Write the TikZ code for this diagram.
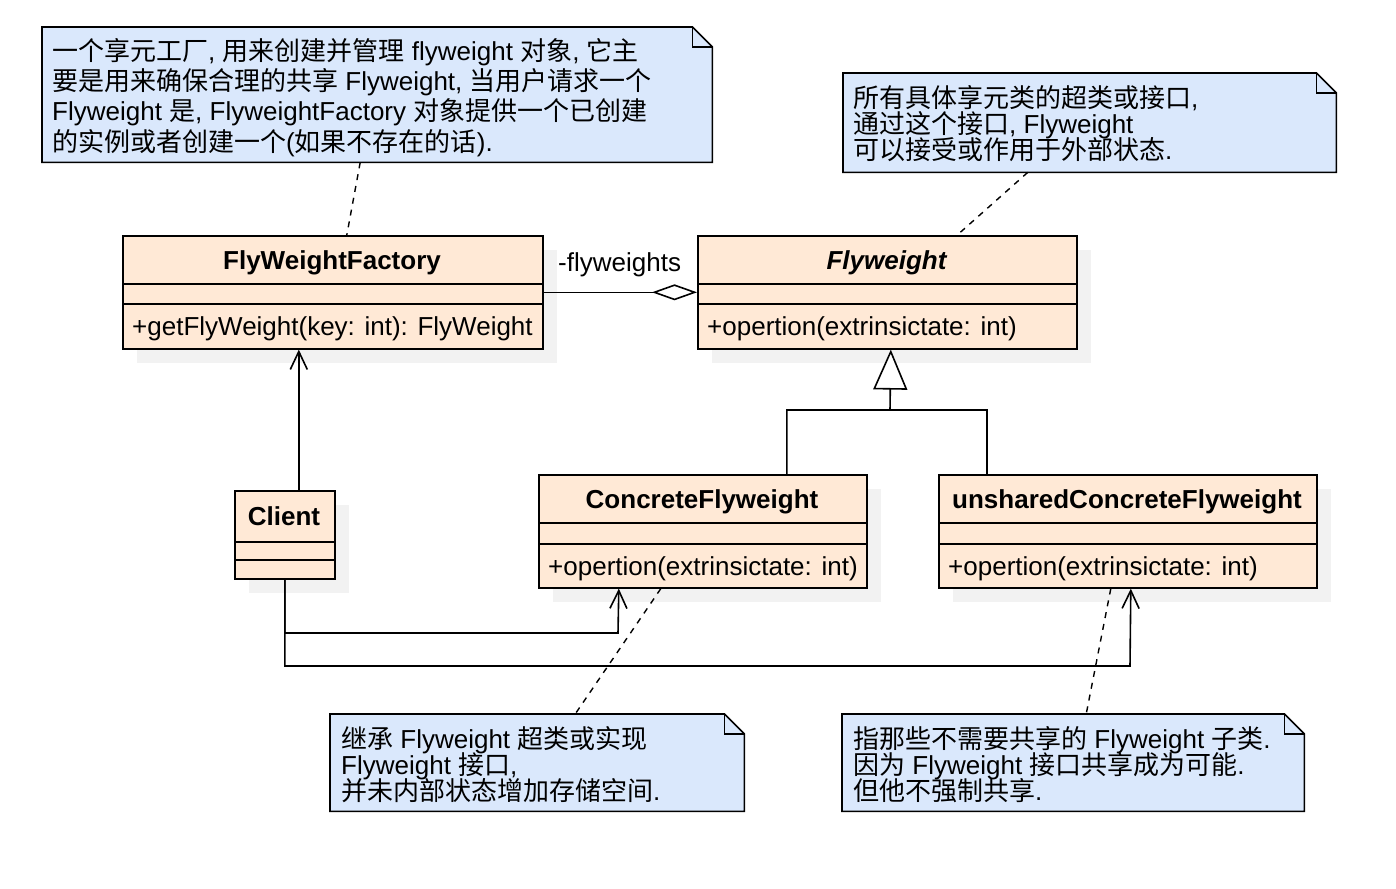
\documentclass[tikz,border=0pt]{standalone}
\usepackage{fontspec}
\setmainfont{Liberation Sans}
\newfontfamily\cjk{Noto Sans CJK SC}
\usetikzlibrary{arrows.meta,shadows}
\definecolor{classfill}{RGB}{255,233,214}
\definecolor{notefill}{RGB}{218,232,252}
\definecolor{shadowgray}{RGB}{242,242,242}
\newcommand\drawnote[1]{%
  \draw[noteline] (#1.north west) -- ([xshift=-20pt]#1.north east) -- ([yshift=-20pt]#1.north east) -- (#1.south east) -- (#1.south west) -- cycle;
  \draw[noteline, fill=none] ([xshift=-20pt]#1.north east) -- ++(0,20) -- ([yshift=-20pt]#1.north east);}
\begin{document}
\begin{tikzpicture}[x=1pt,y=-1pt,
  font=\fontsize{26}{30}\selectfont,
  classbox/.style={draw, line width=1.6pt, fill=classfill, anchor=north west, inner sep=0pt,
    drop shadow={shadow xshift=14pt, shadow yshift=-14pt, fill=shadowgray, opacity=1}},
  sec/.style={line width=1.6pt},
  notebox/.style={anchor=north west, inner sep=0pt, draw=none},
  noteline/.style={draw, line width=1.6pt, fill=notefill},
  txt/.style={anchor=base west, inner sep=0pt},
  ctitle/.style={anchor=base, inner sep=0pt, font=\fontsize{26}{30}\selectfont\bfseries},
  rel/.style={line width=1.6pt},
  assoc/.style={rel, -{Straight Barb[length=18pt,width=17pt]}},
  gen/.style={rel, -{Triangle[length=40pt,width=34pt,fill=white]}},
  agg/.style={rel, -{Diamond[length=45pt,width=16pt,fill=white]}},
  anchorline/.style={line width=1.4pt, dash pattern=on 6pt off 6pt}]
\useasboundingbox (0,0) rectangle (1396,888);

% ---- classes ----
\node[classbox, minimum width=420pt, minimum height=113pt] (fac) at (122,235) {};
\draw[sec] (122,284) -- (542,284);
\draw[sec] (122,304) -- (542,304);
\node[ctitle] (facT) at (332,269) {FlyWeightFactory};
\node[txt] (facM) at (132,335) {+getFlyWeight(key: int): FlyWeight};

\node[classbox, minimum width=379pt, minimum height=113pt] (fw) at (697,235) {};
\draw[sec] (697,284) -- (1076,284);
\draw[sec] (697,304) -- (1076,304);
\node[ctitle, font=\fontsize{26}{30}\selectfont\bfseries\itshape] (fwT) at (886.5,269) {Flyweight};
\node[txt] (fwM) at (707,335) {+opertion(extrinsictate: int)};

\node[classbox, minimum width=328pt, minimum height=113pt] (cf) at (538,474) {};
\draw[sec] (538,523) -- (866,523);
\draw[sec] (538,544) -- (866,544);
\node[ctitle] (cfT) at (702,508) {ConcreteFlyweight};
\node[txt] (cfM) at (548,575) {+opertion(extrinsictate: int)};

\node[classbox, minimum width=378pt, minimum height=113pt] (uc) at (938,474) {};
\draw[sec] (938,523) -- (1316,523);
\draw[sec] (938,544) -- (1316,544);
\node[ctitle] (ucT) at (1127,508) {unsharedConcreteFlyweight};
\node[txt] (ucM) at (948,575) {+opertion(extrinsictate: int)};

\node[classbox, minimum width=100pt, minimum height=88pt] (cl) at (234,490) {};
\draw[sec] (234,542) -- (334,542);
\draw[sec] (234,560) -- (334,560);
\node[ctitle] (clT) at (284,525) {Client};

% ---- relations ----
\draw[agg] (fac.east) -- (fw.west);
\node[txt] (aggL) at (558,271) {-flyweights};

\coordinate (gj) at (890,410);
\draw[gen] ([xshift=84pt]cf.north) |- (gj) -- ([xshift=3.5pt]fw.south);
\draw[rel] ([xshift=-141pt]uc.north) |- (gj);

\draw[assoc] ([xshift=14pt]cl.north) -- ([xshift=14pt]cl.north |- fac.south);
\draw[assoc] (cl.south) |- (618,633) -- ([xshift=-84pt]cf.south);
\draw[assoc] (cl.south) |- (1130,666) -- ([xshift=3pt]uc.south);

% ---- notes ----
\node[notebox, minimum width=670pt, minimum height=135pt] (n1) at (42,27) {};
\drawnote{n1}
\node[txt] (n1a) at (52,61) {{\cjk 一个享元工厂}, {\cjk 用来创建并管理} flyweight {\cjk 对象}, {\cjk 它主}};
\node[txt] (n1b) at (52,91) {{\cjk 要是用来确保合理的共享} Flyweight, {\cjk 当用户请求一个}};
\node[txt] (n1c) at (52,121) {Flyweight {\cjk 是}, FlyweightFactory {\cjk 对象提供一个已创建}};
\node[txt] (n1d) at (52,151) {{\cjk 的实例或者创建一个}({\cjk 如果不存在的话}).};

\node[notebox, minimum width=493pt, minimum height=99pt] (n2) at (843,73) {};
\drawnote{n2}
\node[txt] (n2a) at (853,107) {{\cjk 所有具体享元类的超类或接口},};
\node[txt] (n2b) at (853,133) {{\cjk 通过这个接口}, Flyweight};
\node[txt] (n2c) at (853,159) {{\cjk 可以接受或作用于外部状态}.};

\node[notebox, minimum width=414pt, minimum height=97pt] (n3) at (330,714) {};
\drawnote{n3}
\node[txt] (n3a) at (341,748) {{\cjk 继承} Flyweight {\cjk 超类或实现}};
\node[txt] (n3b) at (341,774) {Flyweight {\cjk 接口},};
\node[txt] (n3c) at (341,800) {{\cjk 并未内部状态增加存储空间}.};

\node[notebox, minimum width=462pt, minimum height=97pt] (n4) at (842,714) {};
\drawnote{n4}
\node[txt] (n4a) at (853,748) {{\cjk 指那些不需要共享的} Flyweight {\cjk 子类}.};
\node[txt] (n4b) at (853,774) {{\cjk 因为} Flyweight {\cjk 接口共享成为可能}.};
\node[txt] (n4c) at (853,800) {{\cjk 但他不强制共享}.};

% ---- note anchors ----
\draw[anchorline] ([xshift=-17pt]n1.south) -- ([xshift=14pt]fac.north);
\draw[anchorline] ([xshift=-62pt]n2.south) -- ([xshift=70pt]fw.north);
\draw[anchorline] ([xshift=-42pt]cf.south) -- ([xshift=38pt]n3.north);
\draw[anchorline] ([xshift=-17pt]uc.south) -- ([xshift=13pt]n4.north);
\end{tikzpicture}
\end{document}
